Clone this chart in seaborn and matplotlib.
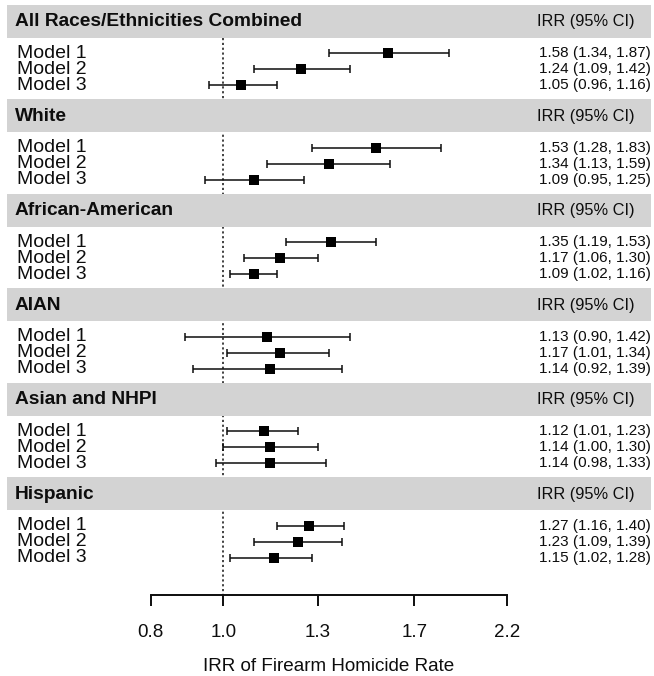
import matplotlib
matplotlib.use("Agg")
import matplotlib.pyplot as plt
import matplotlib.transforms as mtransforms
import seaborn as sns
import pandas as pd
import numpy as np

# ── Data ─────────────────────────────────────────────────────
groups = ["All Races/Ethnicities Combined", "White", "African-American",
          "AIAN", "Asian and NHPI", "Hispanic"]
models = ["Model 1", "Model 2", "Model 3"]
irr = [[1.58, 1.24, 1.05],
       [1.53, 1.34, 1.09],
       [1.35, 1.17, 1.09],
       [1.13, 1.17, 1.14],
       [1.12, 1.14, 1.14],
       [1.27, 1.23, 1.15]]
lower = [[1.34, 1.09, 0.96],
         [1.28, 1.13, 0.95],
         [1.19, 1.06, 1.02],
         [0.90, 1.01, 0.92],
         [1.01, 1.00, 0.98],
         [1.16, 1.09, 1.02]]
upper = [[1.87, 1.42, 1.16],
         [1.83, 1.59, 1.25],
         [1.53, 1.30, 1.16],
         [1.42, 1.34, 1.39],
         [1.23, 1.30, 1.33],
         [1.40, 1.39, 1.28]]
tick_values = [0.817, 1.0, 1.3, 1.7, 2.2]
tick_labels = ["0.8", "1.0", "1.3", "1.7", "2.2"]
xlabel = "IRR of Firearm Homicide Rate"
ci_header = "IRR (95% CI)"

# ── Layout (pixels) ──────────────────────────────────────────
W, H = 654, 676
x_one, px_per_ln = 223.3, 360.0      # pixel of IRR = 1 and pixels per log unit
group_top0, group_step, band_h = 4.8, 94.5, 32.7
row_off0, row_step = 48.5, 16.0
axis_y = 595

rows = []
for gi, g in enumerate(groups):
    top = group_top0 + gi * group_step
    for mi, m in enumerate(models):
        rows.append({"group": g, "model": m, "irr": irr[gi][mi],
                     "lo": lower[gi][mi], "hi": upper[gi][mi],
                     "y": top + row_off0 + mi * row_step})
df = pd.DataFrame(rows)

sns.set_theme(style="white")
plt.rcParams["font.family"] = ["Liberation Sans", "DejaVu Sans"]
ink = "#0d0d0d"

fig = plt.figure(figsize=(W / 100, H / 100), dpi=100)
fig.patch.set_facecolor("white")
ax = fig.add_axes([0, 0, 1, 1])
ax.set_xscale("log")
trans = mtransforms.blended_transform_factory(ax.transAxes, ax.transData)

# ── Group header bands ───────────────────────────────────────
for gi, g in enumerate(groups):
    top = group_top0 + gi * group_step
    ax.axhspan(top, top + band_h, xmin=7 / W, xmax=651 / W,
               color="#d3d3d3", lw=0, zorder=1)
    ax.text(15 / W, top + band_h / 2 + 0.5, g, transform=trans,
            fontsize=13.8, fontweight="bold", va="center", ha="left",
            color=ink, zorder=5)
    ax.text(537 / W, top + band_h / 2 + 0.5, ci_header, transform=trans,
            fontsize=11.8, va="center", ha="left", color=ink, zorder=5)

# ── Row labels and estimates text ────────────────────────────
for _, r in df.iterrows():
    ax.text(17 / W, r["y"], r["model"], transform=trans, fontsize=14,
            va="center", ha="left", color=ink)
    ax.text(651 / W, r["y"], f"{r['irr']:.2f} ({r['lo']:.2f}, {r['hi']:.2f})",
            transform=trans, fontsize=11,
            family=["Liberation Sans Narrow", "Liberation Sans"],
            va="center", ha="right", color=ink)

# ── Reference line at IRR = 1 ────────────────────────────────
ax.vlines(1.0, group_top0 + band_h, axis_y, colors="#222222",
          linestyles=(0, (1.3, 1.6)), lw=1.2, zorder=0.5)

# ── Confidence intervals and point estimates ─────────────────
ax.errorbar(df["irr"], df["y"],
            xerr=[df["irr"] - df["lo"], df["hi"] - df["irr"]],
            fmt="none", ecolor=ink, elinewidth=1.1,
            capsize=3, capthick=1.1, zorder=3)
sns.scatterplot(data=df, x="irr", y="y", marker="s", s=52, color="black",
                linewidth=0, ax=ax, zorder=4, legend=False)
ax.set_xlim(np.exp(-x_one / px_per_ln), np.exp((W - x_one) / px_per_ln))
ax.set_ylim(H, 0)
ax.axis("off")

# ── X axis ───────────────────────────────────────────────────
x0 = x_one + px_per_ln * np.log(tick_values[0])
x1 = x_one + px_per_ln * np.log(tick_values[-1])
ax2 = fig.add_axes([x0 / W, (H - axis_y) / H, (x1 - x0) / W, 0.001])
ax2.set_xscale("log")
ax2.set_xlim(tick_values[0], tick_values[-1])
ax2.patch.set_alpha(0)
for s in ["top", "left", "right"]:
    ax2.spines[s].set_visible(False)
ax2.spines["bottom"].set_linewidth(1.4)
ax2.spines["bottom"].set_color(ink)
ax2.set_xticks(tick_values, tick_labels)
ax2.minorticks_off()
ax2.set_yticks([])
ax2.tick_params(axis="x", direction="out", length=8, width=1.4,
                color=ink, pad=13, labelsize=13.5, labelcolor=ink,
                bottom=True)
ax2.set_xlabel(xlabel, fontsize=13.6, labelpad=12, color=ink)

fig.savefig("out.png", dpi=100)
plt.close()
